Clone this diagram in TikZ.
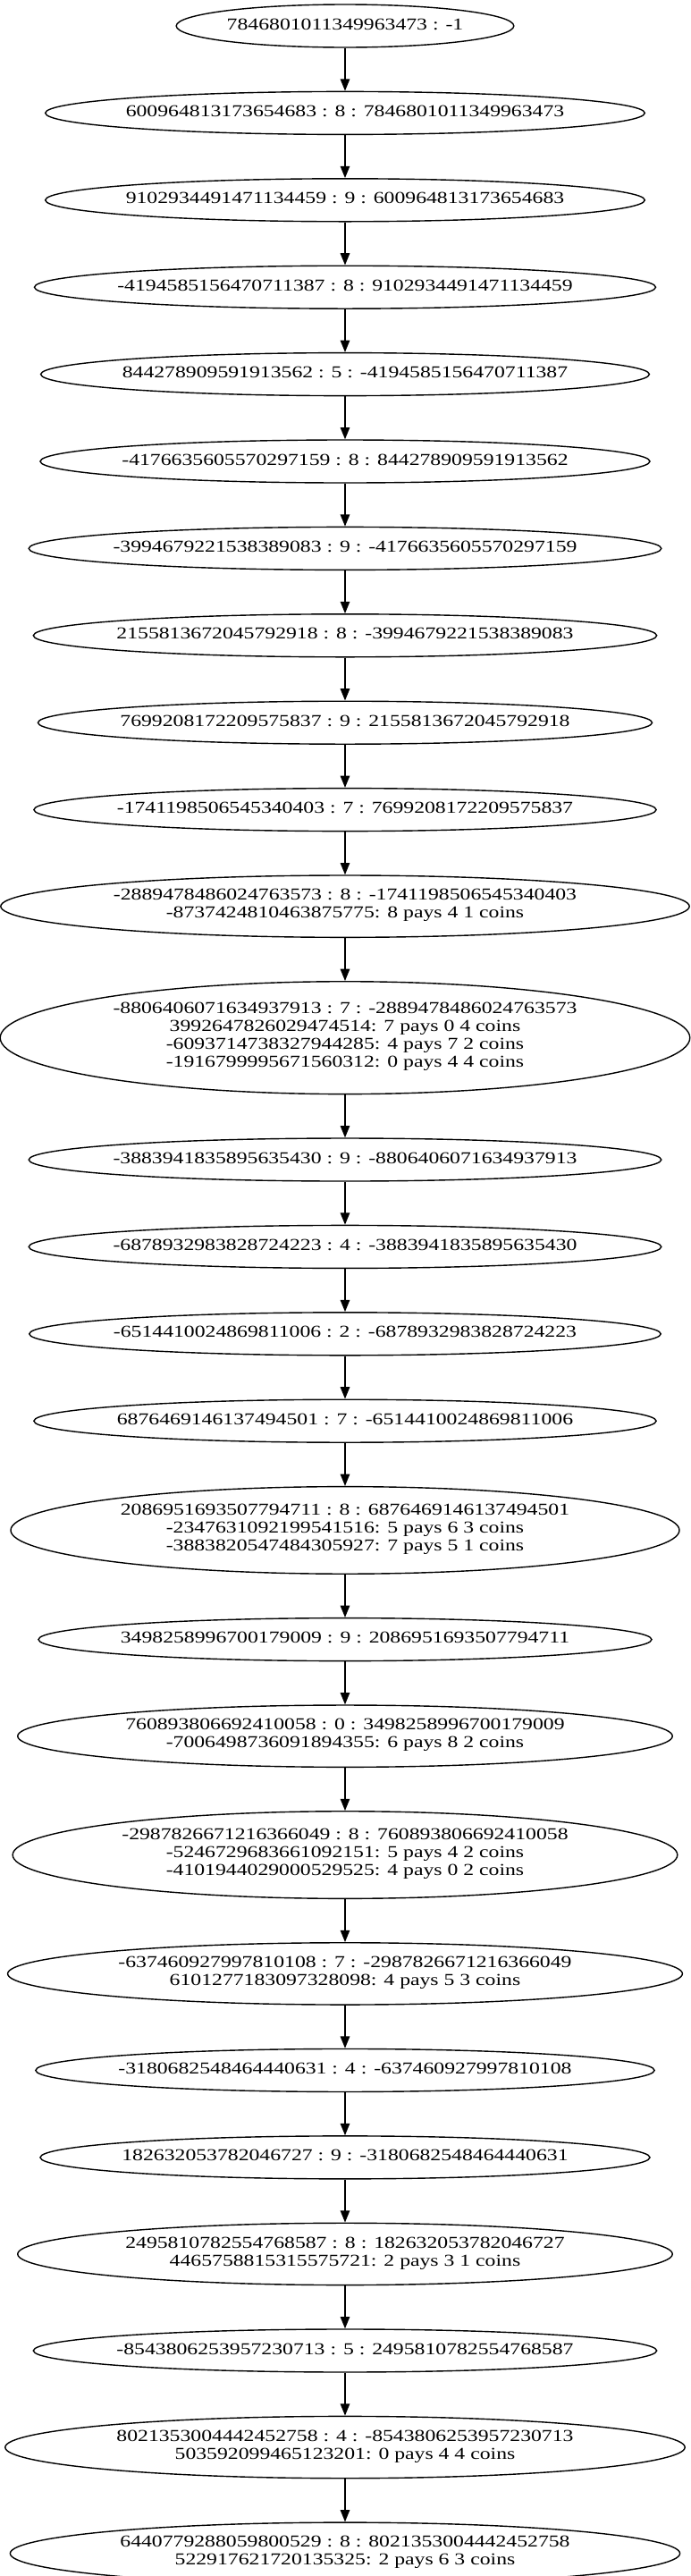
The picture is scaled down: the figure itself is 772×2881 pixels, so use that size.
\documentclass[tikz,border=0pt]{standalone}
\usepackage{fontspec}
\newfontfamily\gvfont[FakeStretch=1.27]{Liberation Serif}
\usetikzlibrary{shapes.geometric, arrows.meta, positioning}
\newcommand{\gvsize}{\gvfont\fontsize{18.67pt}{20pt}\selectfont}
\tikzset{
  block/.style={ellipse, draw=black, line width=1.4pt, align=center, inner xsep=13.3pt, inner ysep=5.3pt, minimum height=48pt, font=\gvsize, execute at begin node=\strut, execute at end node=\strut},
  arrow/.style={line width=1.4pt, -{Triangle[length=13.3pt, width=10.5pt]}}
}
% one-line nodes keep the fixed height, so the ellipse is flatter than sqrt 2:
% the label is measured inside the node and the width is set from it
\newdimen\labelwd
\newsavebox{\labelbox}
\newcommand{\flatlabel}[1]{%
  \sbox{\labelbox}{#1}%
  \global\labelwd=1.297\wd\labelbox
  \global\advance\labelwd by 34.5pt
  \makebox[0pt]{#1}}
\newcommand{\flatnode}[3]{%
  \node (#1) [block, #2, minimum width=\labelwd] {\flatlabel{#3}};}
\begin{document}
\begin{tikzpicture}[node distance=48pt]
        \useasboundingbox (-386pt,29pt) rectangle (386pt,-2852pt);
        % Nodes
        \flatnode{blk1}{}{7846801011349963473 : -1}
        \flatnode{blk2}{below=of blk1}{600964813173654683 : 8 : 7846801011349963473}
        \flatnode{blk3}{below=of blk2}{9102934491471134459 : 9 : 600964813173654683}
        \flatnode{blk4}{below=of blk3}{-4194585156470711387 : 8 : 9102934491471134459}
        \flatnode{blk5}{below=of blk4}{844278909591913562 : 5 : -4194585156470711387}
        \flatnode{blk6}{below=of blk5}{-4176635605570297159 : 8 : 844278909591913562}
        \flatnode{blk7}{below=of blk6}{-3994679221538389083 : 9 : -4176635605570297159}
        \flatnode{blk8}{below=of blk7}{2155813672045792918 : 8 : -3994679221538389083}
        \flatnode{blk9}{below=of blk8}{7699208172209575837 : 9 : 2155813672045792918}
        \flatnode{blk10}{below=of blk9}{-1741198506545340403 : 7 : 7699208172209575837}
        \node (blk11) [block, below=of blk10] {-2889478486024763573 : 8 : -1741198506545340403\\-8737424810463875775: 8 pays 4 1 coins};
        \node (blk12) [block, below=of blk11] {-8806406071634937913 : 7 : -2889478486024763573\\3992647826029474514: 7 pays 0 4 coins\\-6093714738327944285: 4 pays 7 2 coins\\-1916799995671560312: 0 pays 4 4 coins};
        \flatnode{blk13}{below=of blk12}{-3883941835895635430 : 9 : -8806406071634937913}
        \flatnode{blk14}{below=of blk13}{-6878932983828724223 : 4 : -3883941835895635430}
        \flatnode{blk15}{below=of blk14}{-6514410024869811006 : 2 : -6878932983828724223}
        \flatnode{blk16}{below=of blk15}{6876469146137494501 : 7 : -6514410024869811006}
        \node (blk17) [block, below=of blk16] {2086951693507794711 : 8 : 6876469146137494501\\-2347631092199541516: 5 pays 6 3 coins\\-3883820547484305927: 7 pays 5 1 coins};
        \flatnode{blk18}{below=of blk17}{3498258996700179009 : 9 : 2086951693507794711}
        \node (blk19) [block, below=of blk18] {760893806692410058 : 0 : 3498258996700179009\\-7006498736091894355: 6 pays 8 2 coins};
        \node (blk20) [block, below=of blk19] {-2987826671216366049 : 8 : 760893806692410058\\-5246729683661092151: 5 pays 4 2 coins\\-4101944029000529525: 4 pays 0 2 coins};
        \node (blk21) [block, below=of blk20] {-637460927997810108 : 7 : -2987826671216366049\\6101277183097328098: 4 pays 5 3 coins};
        \flatnode{blk22}{below=of blk21}{-3180682548464440631 : 4 : -637460927997810108}
        \flatnode{blk23}{below=of blk22}{182632053782046727 : 9 : -3180682548464440631}
        \node (blk24) [block, below=of blk23] {2495810782554768587 : 8 : 182632053782046727\\4465758815315575721: 2 pays 3 1 coins};
        \flatnode{blk25}{below=of blk24}{-8543806253957230713 : 5 : 2495810782554768587}
        \node (blk26) [block, below=of blk25] {8021353004442452758 : 4 : -8543806253957230713\\503592099465123201: 0 pays 4 4 coins};
        \node (blk27) [block, below=of blk26] {6440779288059800529 : 8 : 8021353004442452758\\522917621720135325: 2 pays 6 3 coins};

        % Paths
        \draw [arrow] (blk1) -- (blk2);
        \draw [arrow] (blk2) -- (blk3);
        \draw [arrow] (blk3) -- (blk4);
        \draw [arrow] (blk4) -- (blk5);
        \draw [arrow] (blk5) -- (blk6);
        \draw [arrow] (blk6) -- (blk7);
        \draw [arrow] (blk7) -- (blk8);
        \draw [arrow] (blk8) -- (blk9);
        \draw [arrow] (blk9) -- (blk10);
        \draw [arrow] (blk10) -- (blk11);
        \draw [arrow] (blk11) -- (blk12);
        \draw [arrow] (blk12) -- (blk13);
        \draw [arrow] (blk13) -- (blk14);
        \draw [arrow] (blk14) -- (blk15);
        \draw [arrow] (blk15) -- (blk16);
        \draw [arrow] (blk16) -- (blk17);
        \draw [arrow] (blk17) -- (blk18);
        \draw [arrow] (blk18) -- (blk19);
        \draw [arrow] (blk19) -- (blk20);
        \draw [arrow] (blk20) -- (blk21);
        \draw [arrow] (blk21) -- (blk22);
        \draw [arrow] (blk22) -- (blk23);
        \draw [arrow] (blk23) -- (blk24);
        \draw [arrow] (blk24) -- (blk25);
        \draw [arrow] (blk25) -- (blk26);
        \draw [arrow] (blk26) -- (blk27);
\end{tikzpicture}
\end{document}
